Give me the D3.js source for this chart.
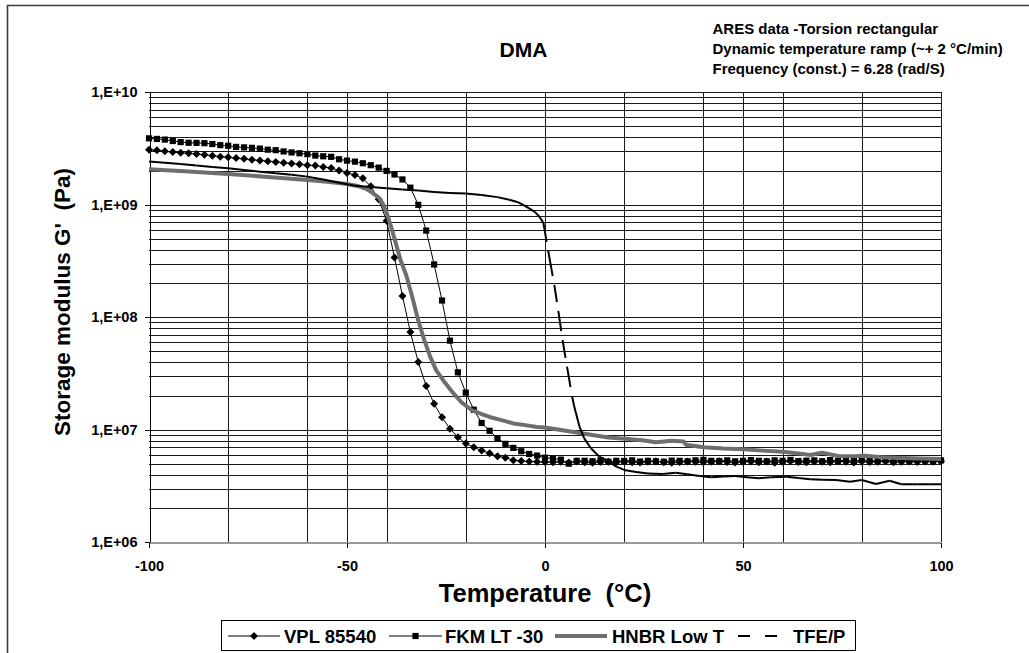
<!DOCTYPE html>
<html><head><meta charset="utf-8">
<script src="https://cdn.jsdelivr.net/npm/d3@7"></script>
<style>
body{margin:0;background:#fff;}
svg{display:block;font-family:"Liberation Sans",Arial,sans-serif;font-weight:bold;}
text{white-space:pre;}
</style></head>
<body><svg id="c" width="1029" height="653"></svg>
<script>
// ---------- DATA ----------
const chartTitle = "DMA";
const noteLines = ["ARES data -Torsion rectangular","Dynamic temperature ramp (~+ 2 °C/min)","Frequency (const.) = 6.28 (rad/S)"];
const xTitle = "Temperature  (°C)";
const yTitle = "Storage modulus G'  (Pa)";
const seriesNames = ["VPL 85540","FKM LT -30","HNBR Low T","TFE/P"];
const xTicks = [-100,-50,0,50,100];
const xTickLabels = ["-100","-50","0","50","100"];
const xGrid = [-80,-60,-50,-40,-20,0,20,40,50,60,80,100];
const yTicks = [1e6,1e7,1e8,1e9,1e10];
const yTickLabels = ["1,E+06","1,E+07","1,E+08","1,E+09","1,E+10"];

const tempStep2 = [-100,-98,-96,-94,-92,-90,-88,-86,-84,-82,-80,-78,-76,-74,-72,-70,-68,-66,-64,-62,-60,-58,-56,-54,-52,-50,-48,-46,-44,-42,-40,-38,-36,-34,-32,-30,-28,-26,-24,-22,-20,-18,-16,-14,-12,-10,-8,-6,-4,-2,0,2,4,6,8,10,12,14,16,18,20,22,24,26,28,30,32,34,36,38,40,42,44,46,48,50,52,54,56,58,60,62,64,66,68,70,72,74,76,78,80,82,84,86,88,90,92,94,96,98,100];

const vplValues = [3.09e9,3.05e9,2.99e9,2.94e9,2.90e9,2.87e9,2.83e9,2.78e9,2.73e9,2.68e9,2.64e9,2.60e9,2.56e9,2.51e9,2.47e9,2.44e9,2.40e9,2.36e9,2.33e9,2.29e9,2.25e9,2.23e9,2.17e9,2.12e9,2.02e9,1.92e9,1.84e9,1.72e9,1.46e9,1.12e9,7.2e8,3.4e8,1.55e8,7.4e7,4.0e7,2.45e7,1.7e7,1.29e7,1.02e7,8.6e6,7.55e6,7.0e6,6.53e6,6.2e6,5.82e6,5.65e6,5.37e6,5.27e6,5.22e6,5.2e6,
5.18e6,5.15e6,5.2e6,5.12e6,5.22e6,5.15e6,5.1e6,5.18e6,5.2e6,5.14e6,5.22e6,5.16e6,5.12e6,5.2e6,5.25e6,5.15e6,5.1e6,5.18e6,5.22e6,5.2e6,5.14e6,5.2e6,5.25e6,5.18e6,5.12e6,5.2e6,5.24e6,5.16e6,5.22e6,5.1e6,5.2e6,5.26e6,5.18e6,5.14e6,5.22e6,5.2e6,5.15e6,5.25e6,5.2e6,5.12e6,5.22e6,5.18e6,5.2e6,5.26e6,5.15e6,5.2e6,5.22e6,5.18e6,5.24e6,5.2e6,5.25e6];

const fkmValues = [3.90e9,3.85e9,3.80e9,3.69e9,3.61e9,3.56e9,3.55e9,3.53e9,3.47e9,3.39e9,3.35e9,3.27e9,3.24e9,3.21e9,3.16e9,3.09e9,3.06e9,2.98e9,2.92e9,2.87e9,2.82e9,2.74e9,2.70e9,2.67e9,2.54e9,2.47e9,2.42e9,2.34e9,2.25e9,2.14e9,2.0e9,1.86e9,1.68e9,1.42e9,1.0e9,5.9e8,2.95e8,1.41e8,6.2e7,3.24e7,2.14e7,1.51e7,1.15e7,9.8e6,8.4e6,7.5e6,6.9e6,6.45e6,6.1e6,5.9e6,5.65e6,5.56e6,5.43e6,5.0e6,5.3e6,
5.3e6,5.25e6,5.35e6,5.2e6,5.3e6,5.28e6,5.35e6,5.22e6,5.3e6,5.25e6,5.2e6,5.32e6,5.3e6,5.25e6,5.35e6,5.4e6,5.3e6,5.28e6,5.35e6,5.25e6,5.3e6,5.38e6,5.3e6,5.25e6,5.35e6,5.3e6,5.4e6,5.28e6,5.32e6,5.35e6,5.25e6,5.38e6,5.3e6,5.35e6,5.28e6,5.4e6,5.32e6,5.3e6,5.36e6,5.28e6,5.35e6,5.3e6,5.38e6,5.32e6,5.3e6,5.35e6];

const hnbrTemps = [-100,-90,-80,-70,-60,-55,-50,-47,-45,-43.5,-42,-41,-40,-39,-38,-36.5,-35,-33.5,-32,-30.5,-29,-27.5,-25.5,-23.5,-21,-18.5,-16,-14,-11,-8,-5,-2,0,4,8,12,16,21,25,28,32,35,35.6,40,45,50,55,60,64,67,70,74,78,81,85,90,95,100];
const hnbrValues = [2.07e9,1.98e9,1.88e9,1.77e9,1.66e9,1.60e9,1.53e9,1.46e9,1.38e9,1.27e9,1.16e9,1.03e9,8.51e8,6.61e8,5.01e8,3.24e8,2.34e8,1.51e8,9.33e7,6.31e7,4.47e7,3.39e7,2.69e7,2.19e7,1.74e7,1.50e7,1.38e7,1.30e7,1.22e7,1.14e7,1.10e7,1.06e7,1.05e7,9.95e6,9.45e6,9.0e6,8.55e6,8.28e6,8.04e6,7.74e6,8.0e6,7.87e6,7.35e6,7.0e6,6.82e6,6.71e6,6.53e6,6.38e6,6.17e6,5.97e6,6.25e6,5.85e6,5.82e6,5.89e6,5.7e6,5.62e6,5.56e6,5.5e6];

const tfeTemps = [-100,-96,-92,-88,-84,-80,-76,-72,-68,-64,-60,-56,-52,-48,-44,-40,-36,-32,-28,-24,-20,-16,-12,-9,-7,-5.5,-4,-2.5,-1.4,-0.4,0.8,2.35,3.36,4.44,5.56,6.82,7.4,8.7,9.9,11.6,13.7,16.2,18,20,23,26,29.7,33,36,39,42,45,48,51,54,57,61,64,67,70,73.5,77,80,83.6,87,90,94,97,100];
const tfeValues = [2.42e9,2.36e9,2.30e9,2.23e9,2.17e9,2.11e9,2.04e9,1.97e9,1.91e9,1.85e9,1.78e9,1.68e9,1.57e9,1.48e9,1.44e9,1.40e9,1.37e9,1.34e9,1.30e9,1.27e9,1.26e9,1.22e9,1.17e9,1.11e9,1.06e9,1.00e9,9.31e8,8.61e8,7.83e8,6.89e8,3.91e8,1.94e8,1.14e8,6.28e7,3.64e7,2.00e7,1.60e7,1.07e7,8.39e6,6.85e6,5.77e6,5.20e6,4.70e6,4.40e6,4.22e6,4.09e6,4.05e6,4.16e6,4.02e6,3.89e6,3.78e6,3.85e6,3.88e6,3.78e6,3.71e6,3.78e6,3.83e6,3.73e6,3.63e6,3.60e6,3.58e6,3.46e6,3.58e6,3.30e6,3.53e6,3.28e6,3.28e6,3.28e6,3.28e6];

// ---------- CHART ----------
const svg = d3.select("#c");
const x = d3.scaleLinear().domain([-100,100]).range([149,941]);
const y = d3.scaleLog().domain([1e6,1e10]).range([542.3,92.3]);

// outer chart border (cropped at right/bottom)
svg.append("path").attr("d","M7.5,653V5.5H1029").attr("fill","none").attr("stroke","#3a3a3a").attr("stroke-width",1.6);

// horizontal grid
const hGrid = [];
for (let k=6;k<10;k++) for (let i=1;i<10;i++) hGrid.push(i*Math.pow(10,k));
hGrid.push(1e10);
const g = svg.append("g").attr("shape-rendering","crispEdges");
g.selectAll("line.h").data(hGrid.filter(v=>v>1e6)).join("line")
  .attr("x1",x(-100)).attr("x2",x(100))
  .attr("y1",d=>Math.round(y(d))+0.5).attr("y2",d=>Math.round(y(d))+0.5)
  .attr("stroke","#1a1a1a").attr("stroke-width",1);
g.selectAll("line.v").data(xGrid).join("line")
  .attr("x1",d=>Math.round(x(d))+0.5).attr("x2",d=>Math.round(x(d))+0.5)
  .attr("y1",y(1e10)).attr("y2",y(1e6))
  .attr("stroke","#1a1a1a").attr("stroke-width",1);

// axes
const ya = svg.append("g").attr("transform",`translate(${Math.round(x(-100))+0.5},0)`)
  .call(d3.axisLeft(y).tickValues(yTicks).tickFormat((d,i)=>yTickLabels[i]).tickSize(5).tickSizeOuter(0).tickPadding(7));
ya.selectAll("text").attr("font-size",14.5).attr("font-weight","bold").attr("font-family","Liberation Sans, Arial").attr("fill","#000");
ya.selectAll("line,path").attr("stroke","#000").attr("shape-rendering","crispEdges");

const xa = svg.append("g").attr("transform",`translate(0,${Math.round(y(1e6))+0.5})`)
  .call(d3.axisBottom(x).tickValues(xTicks).tickFormat((d,i)=>xTickLabels[i]).tickSize(5).tickSizeOuter(0).tickPadding(13));
xa.selectAll("text").attr("font-size",14.5).attr("font-weight","bold").attr("font-family","Liberation Sans, Arial").attr("fill","#000");
xa.selectAll("line").attr("stroke","#000").attr("shape-rendering","crispEdges");
xa.select("path").attr("stroke","#777").attr("stroke-width",1.5);

// titles
svg.append("text").attr("x",523.5).attr("y",57).attr("text-anchor","middle").attr("font-size",21).text(chartTitle);
svg.append("g").selectAll("text").data(noteLines).join("text")
  .attr("x",712.5).attr("y",(d,i)=>34+i*20).attr("font-size",15).text(d=>d);
svg.append("text").attr("x",545).attr("y",602).attr("text-anchor","middle").attr("font-size",25.5).text(xTitle);
svg.append("text").attr("transform","translate(70,302) rotate(-90)").attr("text-anchor","middle").attr("font-size",22.5).text(yTitle);

// series
const line = d3.line().x(d=>x(d[0])).y(d=>y(d[1]));
const vpl = tempStep2.map((t,i)=>[t,vplValues[i]]);
const fkm = tempStep2.map((t,i)=>[t,fkmValues[i]]);
const hnbr = hnbrTemps.map((t,i)=>[t,hnbrValues[i]]);
const tfe = tfeTemps.map((t,i)=>[t,tfeValues[i]]);
const diamond = "M0,-4L4,0L0,4L-4,0Z";
const square = "M-3.1,-3.1H3.1V3.1H-3.1Z";

svg.append("path").attr("d",line(vpl)).attr("fill","none").attr("stroke","#000").attr("stroke-width",1);
svg.append("g").selectAll("path").data(vpl).join("path")
  .attr("transform",d=>`translate(${x(d[0])},${y(d[1])})`).attr("d",diamond).attr("fill","#000");

svg.append("path").attr("d",line(fkm)).attr("fill","none").attr("stroke","#000").attr("stroke-width",1);
svg.append("g").selectAll("path").data(fkm).join("path")
  .attr("transform",d=>`translate(${x(d[0])},${y(d[1])})`).attr("d",square).attr("fill","#000");

svg.append("path").attr("d",line(hnbr)).attr("fill","none").attr("stroke","#6e6e6e").attr("stroke-width",4).attr("stroke-linejoin","round");

// TFE/P: dash pattern restarts on every segment (so dense parts look solid)
const tfeG = svg.append("g");
for (let i=0;i<tfe.length-1;i++){
  const a=tfe[i], b=tfe[i+1];
  const len = Math.hypot(x(b[0])-x(a[0]), y(b[1])-y(a[1]));
  tfeG.append("path").attr("d",line([a,b])).attr("fill","none").attr("stroke","#000").attr("stroke-width",2)
    .attr("stroke-dasharray", len>24 ? `${len-9},9` : null);
}

// legend
const lg = svg.append("g");
lg.append("rect").attr("x",221.5).attr("y",620.5).attr("width",634).attr("height",30).attr("fill","#fff").attr("stroke","#000").attr("stroke-width",1);
const ly = 636;
const legendItems = [
  {x0:228,x1:280,tx:284,marker:diamond},
  {x0:389,x1:442,tx:445,marker:square},
  {x0:555,x1:607,tx:612},
  {x0:738,x1:780,tx:793}
];
legendItems.forEach((it,i)=>{
  const l = lg.append("line").attr("x1",it.x0).attr("x2",it.x1).attr("y1",ly).attr("y2",ly).attr("stroke",i===2?"#6e6e6e":"#000");
  if(i===2) l.attr("stroke-width",4);
  else if(i===3) l.attr("stroke-width",2).attr("stroke-dasharray","12,15");
  else l.attr("stroke-width",1);
  if(it.marker) lg.append("path").attr("transform",`translate(${(it.x0+it.x1)/2},${ly})`).attr("d",it.marker).attr("fill","#000");
  lg.append("text").attr("x",it.tx).attr("y",643).attr("font-size",18.5).text(seriesNames[i]);
});
</script></body></html>
